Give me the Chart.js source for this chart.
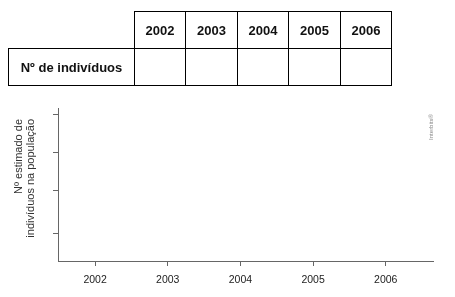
<!DOCTYPE html>
<html>
<head>
<meta charset="utf-8">
<script src="https://cdn.jsdelivr.net/npm/chart.js@4"></script>
<style>
  html, body { margin: 0; padding: 0; background: #fff; }
  #wrap { position: relative; width: 455px; height: 297px; overflow: hidden; }
  #chart { position: absolute; left: 0; top: 0; }
  table { position: absolute; left: 8px; top: 11px; border-collapse: collapse; table-layout: fixed;
          font-family: "Liberation Sans", Arial, sans-serif; font-weight: bold; font-size: 13px; color: #111; }
  td { border: 1px solid #000; height: 36px; padding: 0; text-align: center; vertical-align: middle; }
  td.blank { border-top: none; border-left: none; }
</style>
</head>
<body>
<div id="wrap">
  <canvas id="chart" width="455" height="297"></canvas>
  <table id="tbl"></table>
</div>
<script>
// ---- data ----
const years = [2002, 2003, 2004, 2005, 2006];
const rowLabel = "Nº de indivíduos";
const populationValues = [null, null, null, null, null]; // blank: to be filled in by the student
const yTickValues = [18, 46, 71, 96];
const yTitleLines = ["Nº estimado de", "indivíduos na população"];
const watermark = "Interbits®";

// ---- table ----
const colWidths = [126, 51, 52, 51, 52, 51];
const tbl = document.getElementById('tbl');
const cg = document.createElement('colgroup');
colWidths.forEach(w => { const c = document.createElement('col'); c.style.width = w + 'px'; cg.appendChild(c); });
tbl.appendChild(cg);
const r1 = tbl.insertRow();
const blank = r1.insertCell(); blank.className = 'blank';
years.forEach(y => { r1.insertCell().textContent = y; });
const r2 = tbl.insertRow();
r2.insertCell().textContent = rowLabel;
populationValues.forEach(v => { r2.insertCell().textContent = v == null ? '' : v; });

// ---- chart ----
const axisColor = '#666';
const textPlugin = {
  id: 'extraText',
  afterDraw(chart) {
    const ctx = chart.ctx;
    const area = chart.chartArea;
    ctx.save();
    ctx.fillStyle = '#333';
    ctx.font = '11px "Liberation Sans", Arial, sans-serif';
    ctx.textBaseline = 'middle';
    ctx.textAlign = 'right';
    yTitleLines.forEach((line, i) => {
      ctx.save();
      ctx.translate(18.5 + i * 12, area.top + 11);
      ctx.rotate(-Math.PI / 2);
      ctx.fillText(line, 0, 0);
      ctx.restore();
    });
    ctx.fillStyle = '#888';
    ctx.font = '6px "Liberation Sans", Arial, sans-serif';
    ctx.textAlign = 'center';
    ctx.translate(area.right - 2, area.top + 19);
    ctx.rotate(-Math.PI / 2);
    ctx.fillText(watermark, 0, 0);
    ctx.restore();
  }
};

new Chart(document.getElementById('chart'), {
  type: 'line',
  data: {
    datasets: [{
      label: rowLabel,
      data: years.map((y, i) => ({ x: y, y: populationValues[i] })),
      borderColor: '#000',
      pointRadius: 3
    }]
  },
  options: {
    responsive: false,
    animation: false,
    events: [],
    layout: { padding: { top: 108, right: 22, left: 0, bottom: 0 } },
    plugins: { legend: { display: false }, tooltip: { enabled: false } },
    scales: {
      x: {
        type: 'linear',
        min: 2001.49,
        max: 2006.65,
        afterBuildTicks: s => { s.ticks = years.map(v => ({ value: v })); },
        afterFit: s => { s.height = 36; },
        ticks: {
          callback: v => String(v),
          color: '#222',
          font: { family: '"Liberation Sans", Arial, sans-serif', size: 10.5 },
          padding: 8,
          maxRotation: 0
        },
        grid: { drawOnChartArea: false, drawTicks: true, tickLength: 5, color: axisColor },
        border: { color: axisColor, width: 1 }
      },
      y: {
        type: 'linear',
        min: 0,
        max: 100,
        afterBuildTicks: s => { s.ticks = yTickValues.map(v => ({ value: v })); },
        afterFit: s => { s.width = 58; },
        ticks: { display: false },
        grid: { drawOnChartArea: false, drawTicks: true, tickLength: 5, color: axisColor },
        border: { color: axisColor, width: 1 }
      }
    }
  },
  plugins: [textPlugin]
});
</script>
</body>
</html>
